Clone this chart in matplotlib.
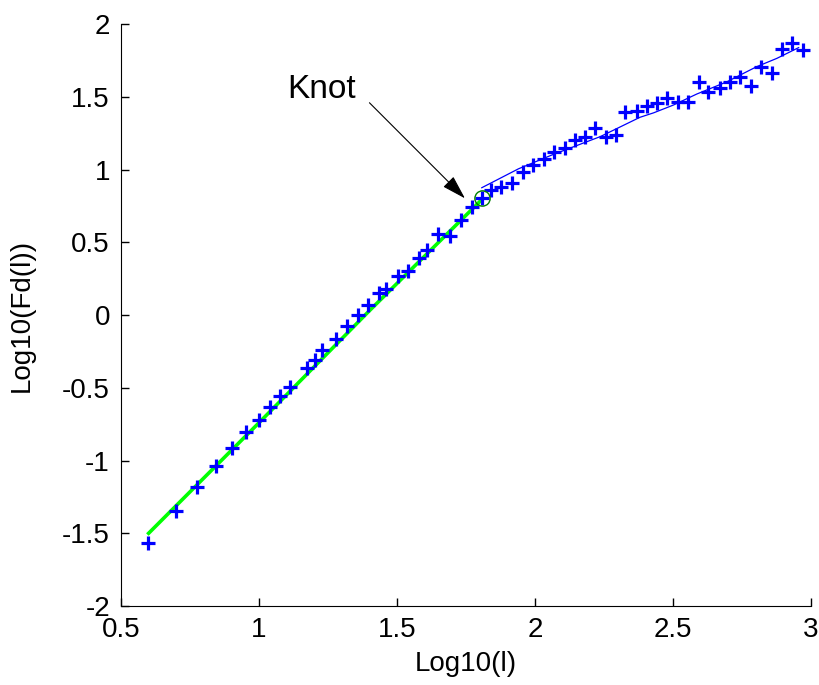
import matplotlib.pyplot as plt
import numpy as np

plt.rcParams['font.family'] = ['Liberation Sans', 'DejaVu Sans']

# measured points (log10 l, log10 Fd(l))
log_l = [0.599, 0.698, 0.774, 0.843, 0.901, 0.953, 1.000, 1.041, 1.077, 1.111,
         1.174, 1.203, 1.227, 1.278, 1.318, 1.360, 1.396, 1.435, 1.459, 1.505,
         1.541, 1.580, 1.610, 1.650, 1.692, 1.732, 1.771, 1.807, 1.840, 1.877,
         1.916, 1.955, 1.993, 2.033, 2.069, 2.109, 2.145, 2.181, 2.217, 2.256,
         2.293, 2.326, 2.368, 2.405, 2.443, 2.479, 2.517, 2.553, 2.594, 2.628,
         2.670, 2.707, 2.743, 2.782, 2.819, 2.858, 2.896, 2.930, 2.970]
log_fd = [-1.569, -1.347, -1.180, -1.036, -0.914, -0.806, -0.722, -0.635, -0.559, -0.493,
          -0.362, -0.311, -0.240, -0.166, -0.078, 0.000, 0.066, 0.153, 0.177, 0.268,
          0.304, 0.390, 0.447, 0.555, 0.543, 0.653, 0.744, 0.802, 0.859, 0.880,
          0.910, 0.985, 1.031, 1.070, 1.122, 1.146, 1.203, 1.226, 1.283, 1.226,
          1.237, 1.393, 1.404, 1.436, 1.455, 1.489, 1.466, 1.466, 1.599, 1.535,
          1.562, 1.603, 1.638, 1.574, 1.707, 1.665, 1.826, 1.872, 1.821]

# fit below the knot (green) and above the knot (blue)
fit1_x = [0.60, 1.00, 1.40, 1.80]
fit1_y = [-1.50, -0.74, 0.03, 0.78]
fit2_x = [1.807, 1.94, 2.061, 2.236, 2.380, 2.430, 2.501, 2.586, 2.695, 2.803, 2.876, 2.955]
fit2_y = [0.875, 1.005, 1.100, 1.226, 1.359, 1.390, 1.443, 1.519, 1.603, 1.707, 1.764, 1.838]

knot = (1.807, 0.802)

fig = plt.figure(figsize=(8.2, 6.85), dpi=100)
ax = fig.add_axes([0.1476, 0.1153, 0.8415, 0.8496])

ax.plot(fit1_x, fit1_y, color=(0, 1, 0), lw=2.6, zorder=2)
ax.plot(fit2_x, fit2_y, color='blue', lw=0.9, zorder=2)
ax.plot(log_l, log_fd, '+', color='blue', ms=10, mew=2.3, zorder=3)
ax.plot(*knot, 'o', ms=11, mfc='none', mec=(0, 0.5, 0), mew=1.0, zorder=4)

ax.annotate('', xy=(1.746, 0.802), xytext=(1.400, 1.459),
            arrowprops=dict(arrowstyle='-|>,head_length=1.5,head_width=0.45',
                            color='black', lw=0.8, shrinkA=0, shrinkB=0))
ax.text(1.225, 1.553, 'Knot', fontsize=24, ha='center', va='center')

ax.set_xlim(0.5, 3)
ax.set_ylim(-2, 2)
ax.set_xticks([0.5, 1, 1.5, 2, 2.5, 3])
ax.set_xticklabels(['0.5', '1', '1.5', '2', '2.5', '3'])
ax.set_yticks([-2, -1.5, -1, -0.5, 0, 0.5, 1, 1.5, 2])
ax.set_yticklabels(['-2', '-1.5', '-1', '-0.5', '0', '0.5', '1', '1.5', '2'])
ax.spines['top'].set_visible(False)
ax.spines['right'].set_visible(False)
ax.tick_params(direction='in', length=6, width=1, labelsize=20, pad=8)
ax.set_xlabel('Log10(l)', fontsize=20, labelpad=6)
ax.set_ylabel('Log10(Fd(l))', fontsize=20, labelpad=20)

fig.savefig('out.png', dpi=100)
